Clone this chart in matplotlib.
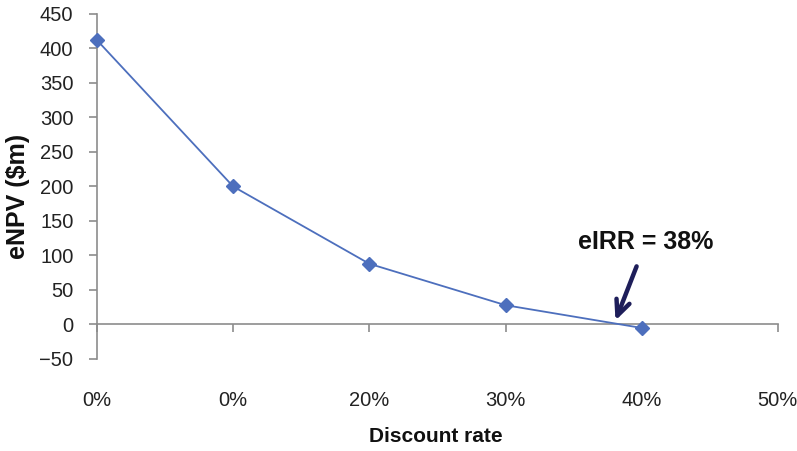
"""eNPV vs discount rate chart."""
import matplotlib
matplotlib.use('Agg')
import matplotlib.pyplot as plt

RATES = [0.0, 0.1, 0.2, 0.3, 0.4]
ENPV = [412, 200, 88, 28, -5]
XTICKS = [0.0, 0.1, 0.2, 0.3, 0.4, 0.5]
XTICK_LABELS = ['0%', '0%', '20%', '30%', '40%', '50%']
YTICKS = list(range(-50, 451, 50))
EIRR = 0.38

plt.rcParams['font.family'] = ['Liberation Sans', 'DejaVu Sans']

fig = plt.figure(figsize=(7.97, 4.51), dpi=100)
ax = fig.add_axes([0.1217, 0.204, 0.8543, 0.765])

ax.plot(RATES, ENPV, color='#4d6fbd', linewidth=1.3, marker='D',
        markersize=7, markerfacecolor='#4d6fbd', markeredgecolor='#4d6fbd',
        clip_on=False, zorder=3)

ax.set_xlim(0, 0.5)
ax.set_ylim(-50, 450)

# axes styling, Excel-like
axis_grey = '#8c8c8c'
ax.spines['top'].set_visible(False)
ax.spines['right'].set_visible(False)
ax.spines['bottom'].set_position(('data', 0))
for s in ('left', 'bottom'):
    ax.spines[s].set_color(axis_grey)
    ax.spines[s].set_linewidth(1.2)

ax.set_yticks(YTICKS)
ax.set_yticklabels(['\u221250' if v < 0 else str(v) for v in YTICKS])
ax.set_xticks(XTICKS)
ax.set_xticklabels(XTICK_LABELS)
ax.tick_params(axis='both', direction='out', length=6, width=1.2,
               color=axis_grey, labelsize=14.5, labelcolor='#222222')
ax.tick_params(axis='x', pad=42)
ax.tick_params(axis='y', pad=11)

ax.set_ylabel('eNPV ($m)', fontsize=18, fontweight='bold', color='#111111',
              va='center')
ax.yaxis.set_label_coords(-0.116, 0.47)
ax.set_xlabel('Discount rate', fontsize=15, fontweight='bold', color='#111111',
              va='center')
ax.xaxis.set_label_coords(0.498, -0.226)

# eIRR callout
ax.annotate('', xy=(EIRR, 2), xytext=(0.397, 88),
            arrowprops=dict(arrowstyle='->,head_length=1.1,head_width=0.5',
                            color='#1e1e5a', linewidth=3.2))
ax.text(0.403, 120, f'eIRR = {EIRR:.0%}', ha='center', va='center',
        fontsize=18, fontweight='bold', color='#111111')

fig.savefig('out.png', dpi=100)
